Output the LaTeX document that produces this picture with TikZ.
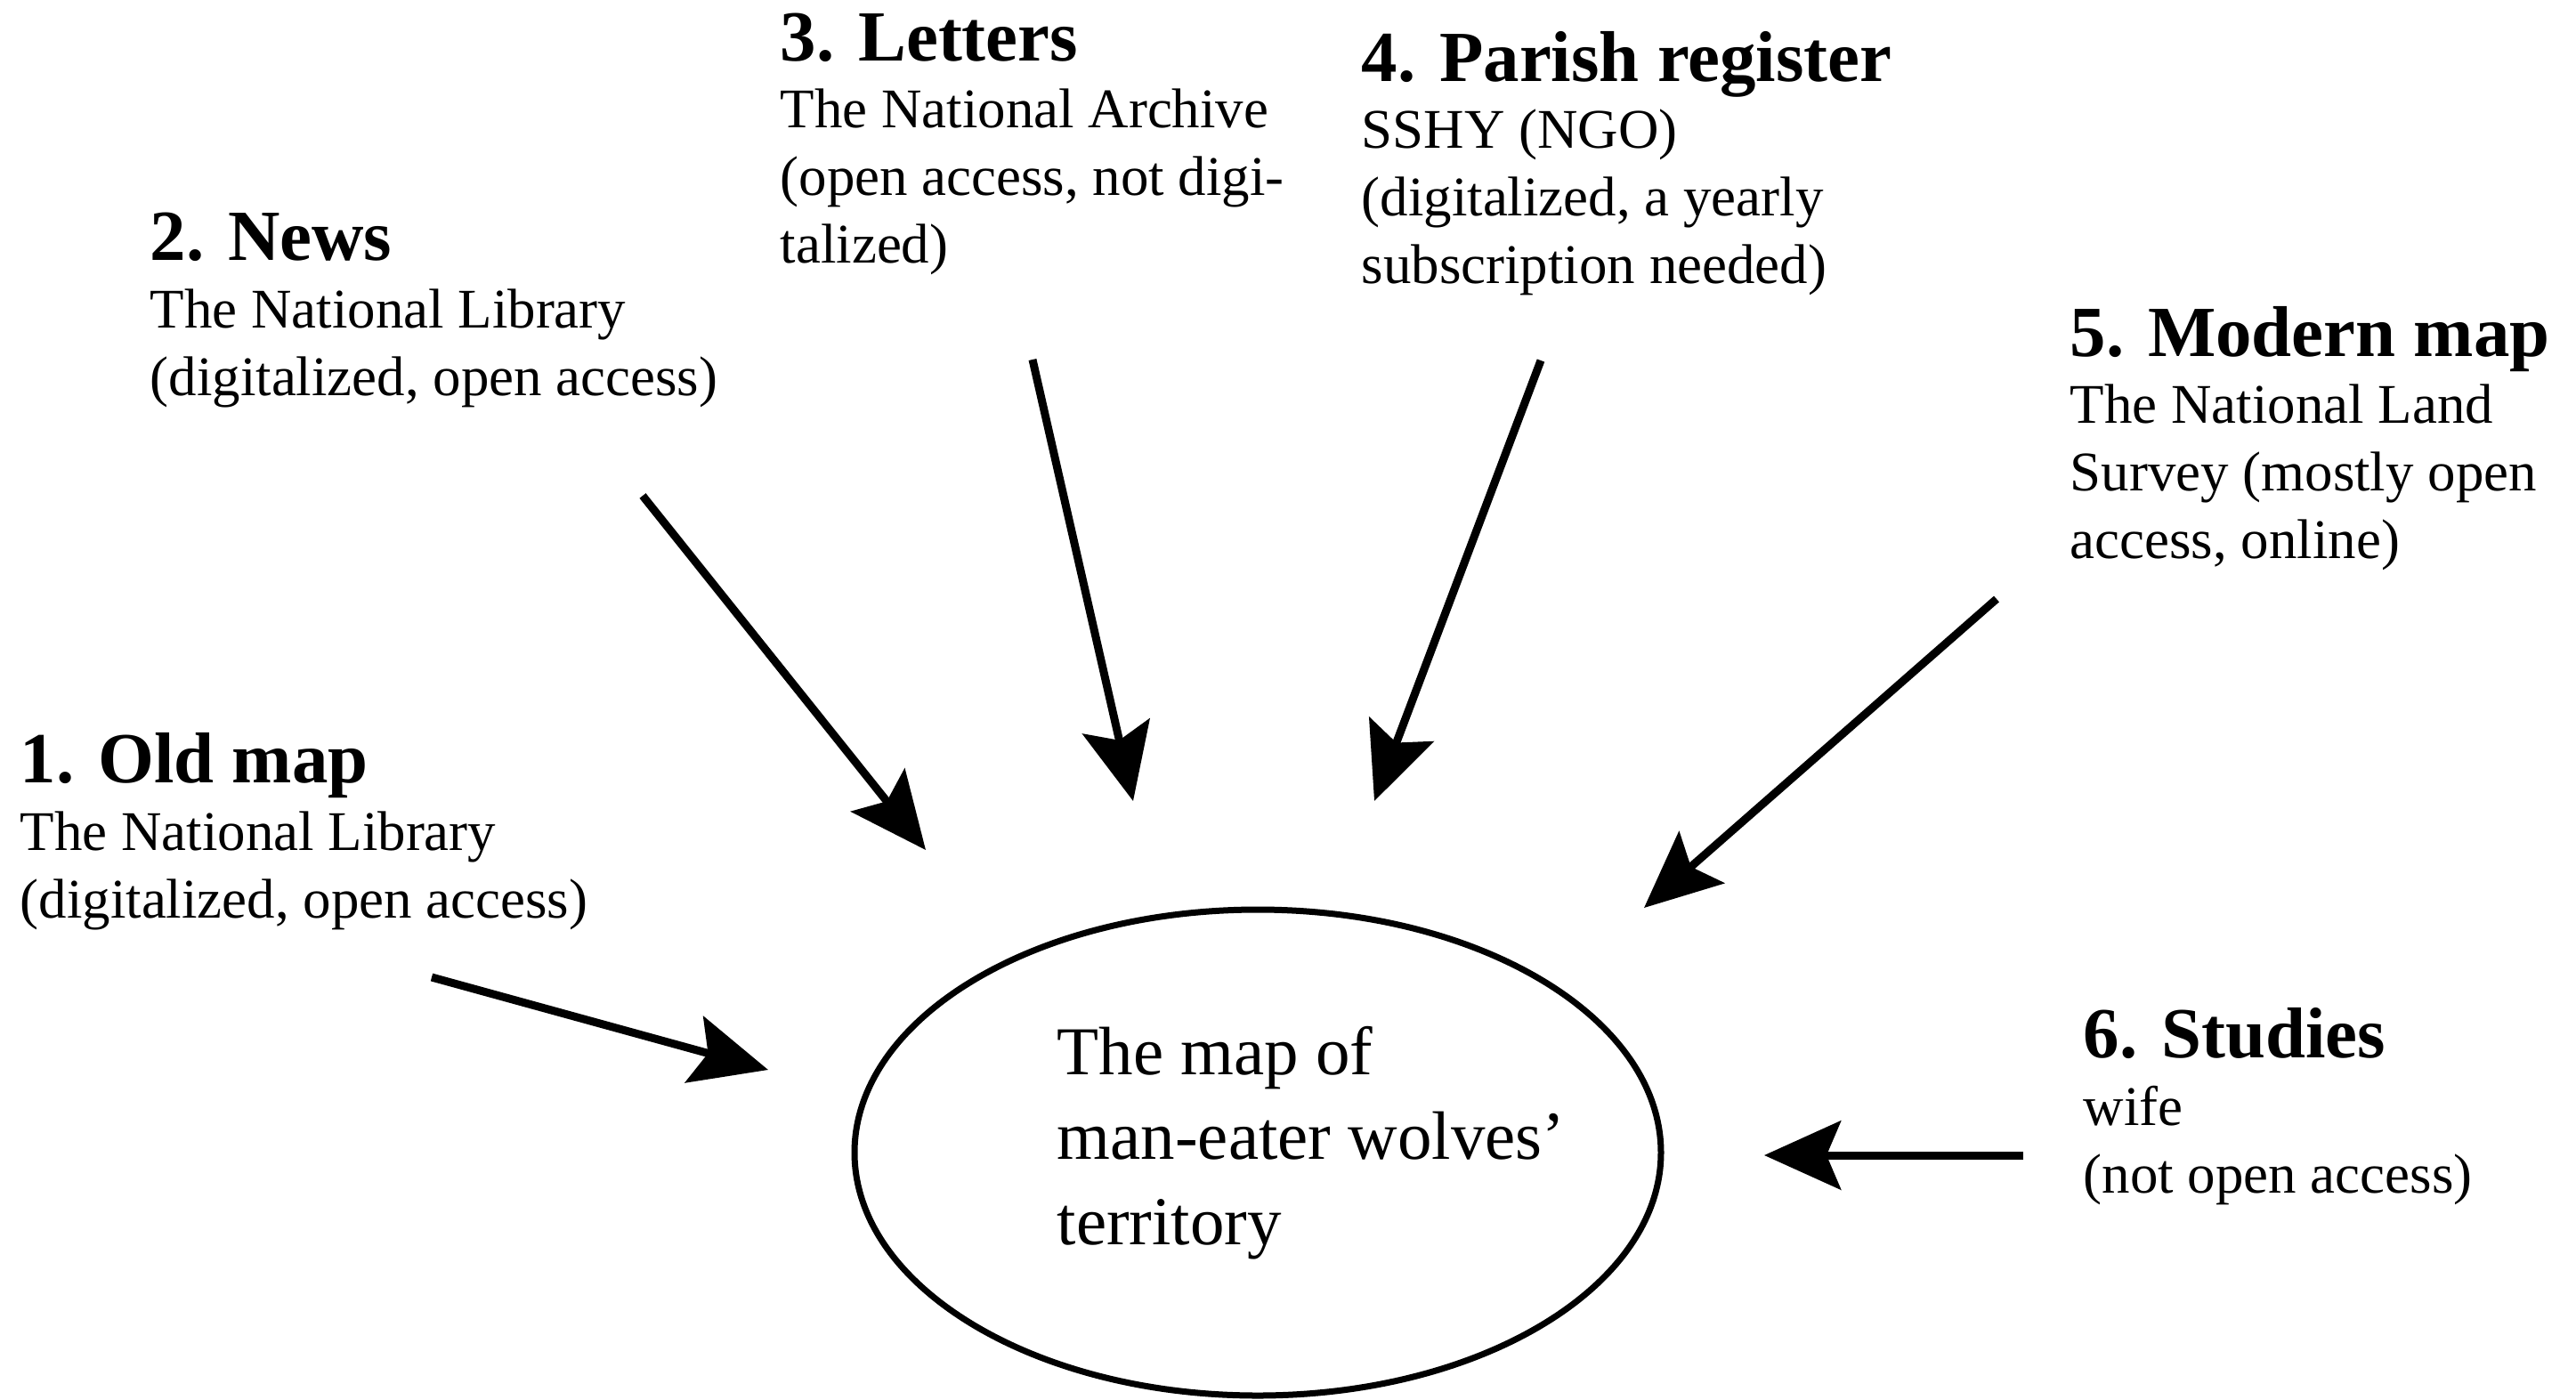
\documentclass[tikz,border=0pt]{standalone}
\usepackage{fontspec}
\setmainfont{Liberation Serif}
\usetikzlibrary{arrows.meta,shapes.geometric}
\newcommand{\headfont}{\fontsize{23}{21.5}\selectfont\bfseries}

\begin{document}
\begin{tikzpicture}[
  source/.style={anchor=base west, align=left, inner sep=0pt, font=\fontsize{17.9}{21.5}\selectfont},
  feed/.style={-{Stealth[length=0.86cm,width=0.77cm,inset=0.16cm]}, line width=0.09cm},
  goal/.style={ellipse, draw, line width=0.07cm, minimum width=9.06cm, minimum height=5.46cm, inner sep=0pt}
]
\useasboundingbox (0,0) rectangle (28.94,-15.72);

% the target map
\node[goal] (map) at (14.13,-12.95) {};
\node[align=left, inner sep=0pt, font=\fontsize{21.9}{27.1}\selectfont] (maptext) at ([xshift=0.6cm,yshift=0.11cm]map.center) {The map of\\man-eater wolves'\\territory};

% sources (y is the base line of the last line)
\foreach \n/\x/\y/\head/\body in {
  1/0.22/-10.31/{1. Old map}/{The National Library\\(digitalized, open access)},
  2/1.68/-4.44/{2. News}/{The National Library\\(digitalized, open access)},
  3/8.76/-2.95/{3. Letters}/{The National Archive\\(open access, not digi-\\talized)},
  4/15.29/-3.18/{4. Parish register}/{SSHY (NGO)\\(digitalized, a yearly\\subscription needed)},
  5/23.25/-6.27/{5. Modern map}/{The National Land\\Survey (mostly open\\access, online)},
  6/23.40/-13.40/{6. Studies}/{wife\\(not open access)}}{
  \node[source] (src\n) at (\x,\y) {{\headfont\head}\\\body};
}

% arrows into the map
\foreach \n/\sx/\sy/\tx/\ty in {
  1/4.85/-10.98/8.63/-12.02,
  2/7.22/-5.57/10.40/-9.55,
  3/11.60/-4.04/12.73/-9.00,
  4/17.31/-4.05/15.44/-9.00,
  5/22.43/-6.73/18.47/-10.20,
  6/22.73/-12.98/19.82/-12.98}{
  \coordinate (s\n) at (\sx,\sy);
  \coordinate (t\n) at (\tx,\ty);
  \draw[feed] (s\n) -- (t\n);
}
\end{tikzpicture}
\end{document}
